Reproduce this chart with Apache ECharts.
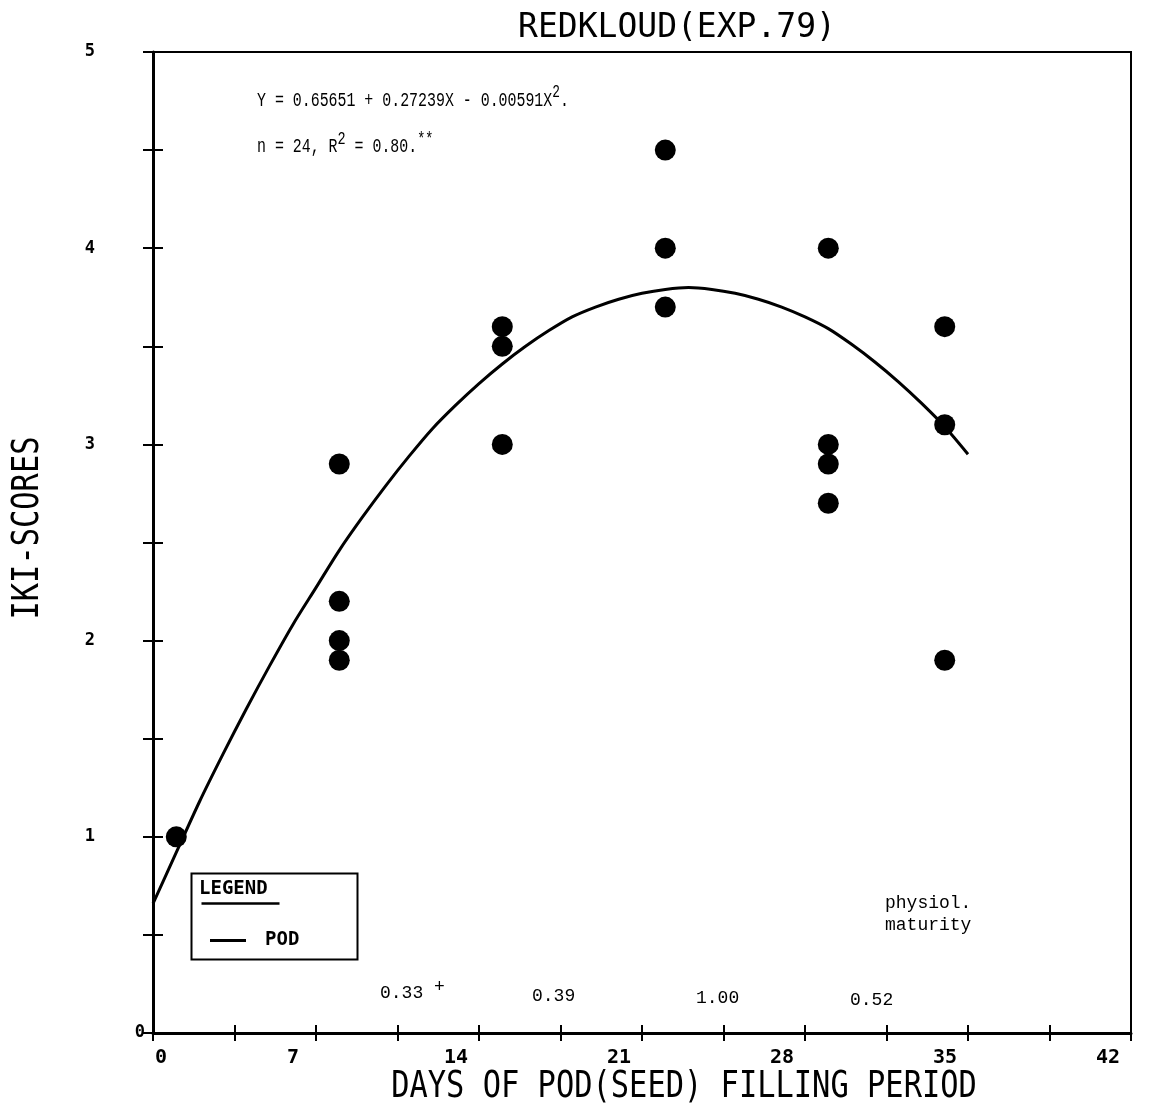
<!DOCTYPE html>
<html>
<head>
<meta charset="utf-8">
<title>REDKLOUD (EXP.79)</title>
<script src="https://cdn.jsdelivr.net/npm/echarts@6/dist/echarts.min.js"></script>
<style>
  html, body { margin: 0; padding: 0; background: #fff; }
  #chart { width: 1152px; height: 1112px; }
</style>
</head>
<body>
<div id="chart"></div>
<script>
// Sampling days (days of pod filling) and IKI scores observed on each day
const obsDays   = [1, 8, 8, 8, 8, 15, 15, 15, 22, 22, 22, 29, 29, 29, 29, 34, 34, 34];
const obsScores = [1.0, 2.9, 2.2, 2.0, 1.9, 3.6, 3.5, 3.0, 4.5, 4.0, 3.7, 4.0, 3.0, 2.9, 2.7, 3.6, 3.1, 1.9];

// Fitted quadratic (POD)
const curveDays = [0, 1, 2, 3, 4, 5, 6, 7, 8, 9, 10, 11, 12, 13, 14, 15, 16, 17,
                   18, 19, 20, 21, 22, 23, 24, 25, 26, 27, 28, 29, 30, 31, 32, 33, 34, 35];
const curveVals = [0.66, 0.92, 1.18, 1.42, 1.65, 1.87, 2.08, 2.27, 2.46, 2.63, 2.79, 2.94,
                   3.08, 3.20, 3.31, 3.41, 3.50, 3.58, 3.65, 3.70, 3.74, 3.77, 3.79, 3.80,
                   3.79, 3.77, 3.74, 3.70, 3.65, 3.59, 3.51, 3.42, 3.32, 3.21, 3.09, 2.95];

// Correlation coefficients printed between sampling dates
const corrTexts = ['0.33', '0.39', '1.00', '0.52'];

// Axis settings
const xTickStep = 3.5, xMax = 42, xLabelStep = 7;
const yTickStep = 0.5, yMax = 5;

const plotFont = '"DejaVu Sans Mono", monospace';
const typeFont = '"Liberation Mono", "DejaVu Sans Mono", monospace';

const chart = echarts.init(document.getElementById('chart'), null, { renderer: 'canvas' });

const scatterData = obsDays.map((d, i) => [d, obsScores[i]]);
const curveData = curveDays.map((d, i) => [d, curveVals[i]]);

const axisLine = { show: true, lineStyle: { color: '#000', width: 3 } };
const tickStyle = { color: '#000', width: 2 };

const option = {
  backgroundColor: '#fff',
  animation: false,
  title: {
    text: 'REDKLOUD(EXP.79)',
    left: 672,
    textAlign: 'center',
    top: 7,
    textStyle: { fontFamily: plotFont, fontSize: 33, fontWeight: 'normal', color: '#000' }
  },
  grid: {
    left: 153, right: 21, top: 52, bottom: 79,
    outerBoundsMode: 'none',
    show: true, borderColor: '#000', borderWidth: 2, backgroundColor: 'transparent'
  },
  legend: {
    data: ['POD'],
    left: 205, top: 926,
    itemWidth: 36, itemHeight: 3,
    icon: 'rect',
    itemGap: 8,
    textStyle: { fontFamily: plotFont, fontWeight: 'bold', fontSize: 19, color: '#000', padding: [0, 0, 0, 14] }
  },
  xAxis: [
    {
      type: 'value', min: 0, max: xMax, interval: xTickStep,
      axisLine: axisLine,
      axisTick: { show: true, inside: false, length: 8, lineStyle: tickStyle },
      splitLine: { show: false },
      axisLabel: {
        margin: 15,
        formatter: v => {
          if (Math.abs(v % xLabelStep) > 1e-6) return '';
          return v === 0 ? '{z|0}' : '{n|' + v + '}';
        },
        rich: {
          z: { fontFamily: plotFont, fontWeight: 'bold', fontSize: 20, color: '#000', padding: [0, 0, 0, 16] },
          n: { fontFamily: plotFont, fontWeight: 'bold', fontSize: 20, color: '#000', padding: [0, 46, 0, 0] }
        }
      }
    },
    {
      type: 'value', min: 0, max: xMax, interval: xTickStep, position: 'bottom',
      axisLine: { show: false },
      axisTick: { show: true, inside: true, length: 8, lineStyle: tickStyle },
      axisLabel: { show: false },
      splitLine: { show: false }
    }
  ],
  yAxis: [
    {
      type: 'value', min: 0, max: yMax, interval: yTickStep,
      axisLine: axisLine,
      axisTick: { show: true, inside: false, length: 10, lineStyle: tickStyle },
      splitLine: { show: false },
      axisLabel: {
        margin: 8,
        formatter: v => {
          if (Math.abs(v % 1) > 1e-6) return '';
          return v === 0 ? '{z|0}' : '{n|' + v + '}';
        },
        rich: {
          z: { fontFamily: plotFont, fontWeight: 'bold', fontSize: 17, color: '#000' },
          n: { fontFamily: plotFont, fontWeight: 'bold', fontSize: 17, color: '#000', padding: [0, 50, 0, 0] }
        }
      }
    },
    {
      type: 'value', min: 0, max: yMax, interval: yTickStep, position: 'left',
      axisLine: { show: false },
      axisTick: { show: true, inside: true, length: 10, lineStyle: tickStyle },
      axisLabel: { show: false },
      splitLine: { show: false }
    }
  ],
  series: [
    {
      name: 'POD',
      type: 'line',
      data: curveData,
      smooth: 0.3,
      showSymbol: false,
      symbol: 'none',
      itemStyle: { color: '#000' },
      lineStyle: { color: '#000', width: 3 },
      z: 3
    },
    {
      name: 'observed',
      type: 'scatter',
      data: scatterData,
      symbol: 'circle',
      symbolSize: 21,
      itemStyle: { color: '#000', opacity: 1 },
      z: 4
    }
  ],
  graphic: [
    // axis titles
    {
      type: 'text', x: 684, y: 1087, scaleX: 0.8,
      style: {
        text: 'DAYS OF POD(SEED) FILLING PERIOD',
        fontFamily: plotFont, fontSize: 38, fill: '#000',
        align: 'center', verticalAlign: 'middle'
      }
    },
    {
      type: 'text', x: 28, y: 528, rotation: Math.PI / 2, scaleX: 0.8,
      style: {
        text: 'IKI-SCORES',
        fontFamily: plotFont, fontSize: 38, fill: '#000',
        align: 'center', verticalAlign: 'middle'
      }
    },
    // equation and fit statistics
    {
      type: 'text', x: 257, y: 100, scaleX: 0.71,
      style: {
        text: '{t|Y = 0.65651 + 0.27239X - 0.00591X}{s|2}{t|.}',
        verticalAlign: 'middle',
        rich: {
          t: { fontFamily: typeFont, fontSize: 21, fill: '#000' },
          s: { fontFamily: typeFont, fontSize: 18, fill: '#000', padding: [0, 0, 15, 0] }
        }
      }
    },
    {
      type: 'text', x: 257, y: 146, scaleX: 0.71,
      style: {
        text: '{t|n = 24, R}{s|2}{t| = 0.80.}{s|**}',
        verticalAlign: 'middle',
        rich: {
          t: { fontFamily: typeFont, fontSize: 21, fill: '#000' },
          s: { fontFamily: typeFont, fontSize: 19, fill: '#000', padding: [0, 0, 15, 0] }
        }
      }
    },
    // correlation coefficients between sampling dates
    {
      type: 'text', x: 380, y: 993,
      style: {
        text: '{t|' + corrTexts[0] + ' }{s|+}',
        verticalAlign: 'middle',
        rich: {
          t: { fontFamily: typeFont, fontSize: 18, fill: '#000' },
          s: { fontFamily: typeFont, fontSize: 18, fill: '#000', padding: [0, 0, 12, 0] }
        }
      }
    },
    { type: 'text', x: 532, y: 996, style: { text: corrTexts[1], fontFamily: typeFont, fontSize: 18, fill: '#000', verticalAlign: 'middle' } },
    { type: 'text', x: 696, y: 998, style: { text: corrTexts[2], fontFamily: typeFont, fontSize: 18, fill: '#000', verticalAlign: 'middle' } },
    { type: 'text', x: 850, y: 1000, style: { text: corrTexts[3], fontFamily: typeFont, fontSize: 18, fill: '#000', verticalAlign: 'middle' } },
    // physiological maturity note
    {
      type: 'text', x: 885, y: 892,
      style: { text: 'physiol.\nmaturity', fontFamily: typeFont, fontSize: 18, lineHeight: 22, fill: '#000' }
    },
    // legend frame
    {
      type: 'rect', left: 189, top: 871,
      shape: { width: 166, height: 86 },
      style: { fill: 'none', stroke: '#000', lineWidth: 2 }
    },
    {
      type: 'text', left: 199, top: 880,
      style: { text: 'LEGEND', fontFamily: plotFont, fontWeight: 'bold', fontSize: 19, fill: '#000' }
    },
    {
      type: 'line', left: 199, top: 901,
      shape: { x1: 0, y1: 0, x2: 78, y2: 0 },
      style: { stroke: '#000', lineWidth: 2.5 }
    }
  ]
};

chart.setOption(option);
</script>
</body>
</html>
